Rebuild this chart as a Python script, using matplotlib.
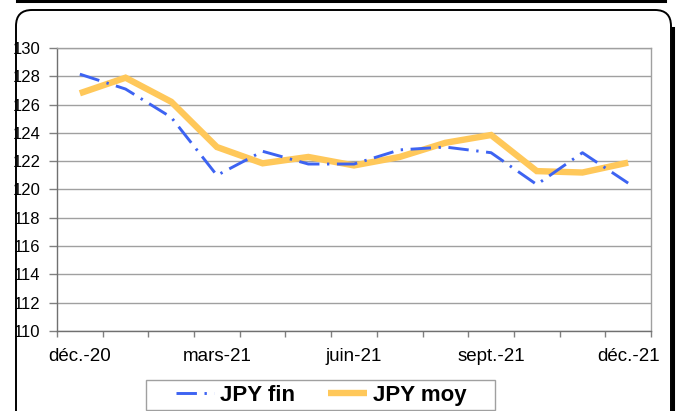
import matplotlib
matplotlib.use("Agg")
import matplotlib.pyplot as plt
from matplotlib.patches import FancyBboxPatch, Rectangle
from matplotlib.lines import Line2D
from matplotlib.transforms import IdentityTransform
import numpy as np

plt.rcParams['font.family'] = ['Liberation Sans', 'DejaVu Sans']

months = ["déc.-20", "janv.-21", "févr.-21", "mars-21", "avr.-21", "mai-21", "juin-21",
          "juil.-21", "août-21", "sept.-21", "oct.-21", "nov.-21", "déc.-21"]
jpy_fin = [128.15, 127.1, 125.1, 121.0, 122.7, 121.8, 121.8, 122.8, 123.0, 122.6, 120.35, 122.6, 120.45]
jpy_moy = [126.8, 127.9, 126.2, 123.0, 121.85, 122.3, 121.7, 122.3, 123.3, 123.85, 121.3, 121.2, 121.9]
xtick_labels = ["déc.-20", "mars-21", "juin-21", "sept.-21", "déc.-21"]
yticks = list(range(110, 131, 2))

W, H = 678, 411
fig = plt.figure(figsize=(W / 100, H / 100), dpi=100)

# outer rounded frame (pixel coordinates, origin bottom-left)
frame = FancyBboxPatch((16, -20), 655, 411 - 10 + 20,
                       boxstyle="round,pad=0,rounding_size=16",
                       transform=IdentityTransform(), fill=False, ec="black", lw=1.4)
fig.patches.append(frame)
fig.add_artist(Line2D([672.5, 672.5], [-5, 411 - 28], transform=IdentityTransform(),
                      color="black", lw=2.2))
fig.add_artist(Line2D([17 / W, 665 / W], [1 - 1 / H, 1 - 1 / H], transform=fig.transFigure,
                      color="black", lw=2.2))

ax = fig.add_axes([57 / W, 1 - 331 / H, (651 - 57) / W, (331 - 48) / H])
x = np.arange(len(months))

ax.plot(x, jpy_fin, color="#3D63F2", lw=2.1, dashes=(7, 2.6, 0.8, 2.6), label="JPY fin",
        dash_capstyle="butt", zorder=3)
ax.plot(x, jpy_moy, color="#FFC85A", lw=4.6, label="JPY moy", solid_joinstyle="miter",
        solid_capstyle="butt", zorder=2)

ax.set_xlim(-0.5, len(months) - 0.5)
ax.set_ylim(110, 130)
ax.set_yticks(yticks)
ax.set_yticklabels([str(v) for v in yticks], fontsize=12)
ax.yaxis.grid(True, color="#A0A0A0", lw=1.0)
ax.set_axisbelow(True)

# tick marks at category boundaries, labels centred on every third month
ax.set_xticks(np.arange(-0.5, len(months), 1.0), minor=True)
label_idx = [months.index(m) if m != "déc.-21" else len(months) - 1 for m in xtick_labels]
ax.set_xticks(label_idx)
ax.set_xticklabels(xtick_labels, fontsize=13.5)

ax.tick_params(axis="y", length=6, width=1, color="#808080", pad=6, direction="out")
ax.tick_params(axis="x", which="major", length=0, pad=12)
ax.tick_params(axis="x", which="minor", length=4, width=1, color="#808080", direction="out")
for s in ax.spines.values():
    s.set_color("#A0A0A0")
    s.set_linewidth(1.0)
ax.spines["left"].set_color("#707070")
ax.spines["bottom"].set_color("#707070")

# legend box
fig.patches.append(Rectangle((145.5, 1.5), 349, 29.5, transform=IdentityTransform(),
                             fill=True, fc="white", ec="#A0A0A0", lw=1.0))
leg = fig.legend(loc="center", bbox_to_anchor=(321 / W, 1 - 395 / H), ncol=2,
                 frameon=False, prop={"weight": "bold", "size": 16}, handlelength=1.75,
                 handletextpad=0.25, columnspacing=1.5, borderpad=0.1,
                 borderaxespad=0)

fig.savefig("out.png", dpi=100)
